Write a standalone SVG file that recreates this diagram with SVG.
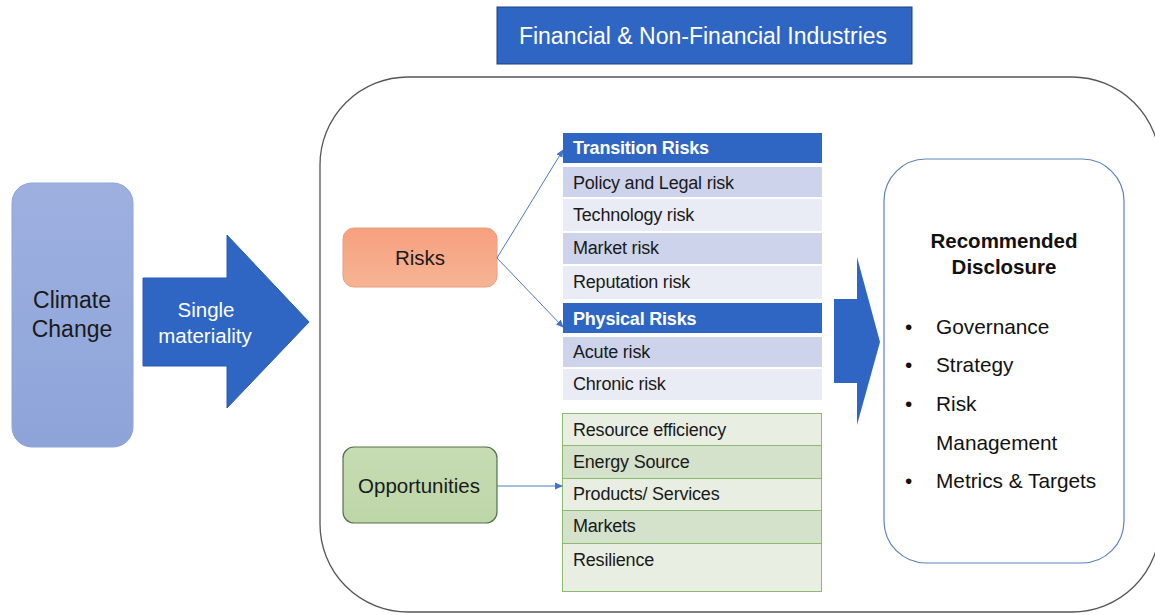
<svg xmlns="http://www.w3.org/2000/svg" width="1155" height="615" viewBox="0 0 1155 615">
  <defs>
    <linearGradient id="gClimate" x1="0" y1="0" x2="0" y2="1">
      <stop offset="0" stop-color="#9db0e0"/>
      <stop offset="1" stop-color="#8ea4d9"/>
    </linearGradient>
    <linearGradient id="gRisk" x1="0" y1="0" x2="0" y2="1">
      <stop offset="0" stop-color="#f7a07e"/>
      <stop offset="1" stop-color="#f6b494"/>
    </linearGradient>
    <linearGradient id="gOpp" x1="0" y1="0" x2="0" y2="1">
      <stop offset="0" stop-color="#c6dcb3"/>
      <stop offset="1" stop-color="#bdd6a8"/>
    </linearGradient>
    <marker id="arr" markerWidth="8" markerHeight="8" refX="7" refY="4" orient="auto" markerUnits="userSpaceOnUse">
      <path d="M0,0.5 L8,4 L0,7.5 z" fill="#4472c4"/>
    </marker>
  </defs>
  <style>
    text { font-family: "Liberation Sans", Arial, sans-serif; }
    .row { font-size: 18px; fill: #1a1a1a; letter-spacing: -0.2px; }
    .hdr { font-size: 18px; fill: #ffffff; font-weight: bold; letter-spacing: -0.2px; }
    .hdrbox { fill: #2f66c4; }
    .rDark { fill: #cdd3ea; }
    .rLight { fill: #e9ebf5; }
    .gDark { fill: #d4e1cb; stroke: #8cba70; stroke-width: 1; }
    .gLight { fill: #e9eee3; stroke: #8cba70; stroke-width: 1; }
    .big { fill: #2f66c4; }
    .conn { stroke: #4a78c8; stroke-width: 1; fill: none; }
    .disc { font-size: 20.8px; fill: #111; }
  </style>

  <rect width="1155" height="615" fill="#ffffff"/>

  <!-- industries banner -->
  <g id="industries">
    <rect x="497" y="7" width="415" height="57" fill="#2f66c4" stroke="#1f3f80" stroke-width="1"/>
    <text x="703" y="44" text-anchor="middle" font-size="23" fill="#ffffff">Financial &amp; Non-Financial Industries</text>
  </g>

  <!-- outer container -->
  <g id="container">
    <rect x="320" y="77" width="840" height="535" rx="88" ry="88" fill="#ffffff" stroke="#555555" stroke-width="1.3"/>
  </g>

  <!-- climate change -->
  <g id="climate">
    <rect x="12" y="183" width="121" height="264" rx="20" ry="20" fill="url(#gClimate)" stroke="#8fa3d6" stroke-width="1"/>
    <text x="72" y="308" text-anchor="middle" font-size="23" fill="#1a1a1a">Climate</text>
    <text x="72" y="337" text-anchor="middle" font-size="23" fill="#1a1a1a">Change</text>
  </g>

  <!-- single materiality arrow -->
  <g id="single-materiality">
    <path class="big" d="M143,278 L227,278 L227,235 L309,322 L227,408 L227,366 L143,366 z" stroke="#2a5bb0" stroke-width="1"/>
    <text x="206" y="317" text-anchor="middle" font-size="20.5" fill="#ffffff">Single</text>
    <text x="205" y="343" text-anchor="middle" font-size="20.5" fill="#ffffff">materiality</text>
  </g>

  <!-- risks -->
  <g id="risks">
    <rect x="343" y="228" width="154" height="59" rx="11" ry="11" fill="url(#gRisk)" stroke="#e8a080" stroke-width="1"/>
    <text x="420" y="265" text-anchor="middle" font-size="20.5" fill="#1a1a1a">Risks</text>
  </g>

  <!-- opportunities -->
  <g id="opportunities">
    <rect x="343" y="447" width="154" height="76" rx="11" ry="11" fill="url(#gOpp)" stroke="#55704a" stroke-width="1.2"/>
    <text x="419" y="493" text-anchor="middle" font-size="20.5" fill="#1a1a1a">Opportunities</text>
  </g>

  <!-- transition risks table -->
  <g id="transition-risks">
    <rect class="hdrbox" x="563" y="133" width="259" height="30"/>
    <text class="hdr" x="573" y="154">Transition Risks</text>
    <rect class="rDark" x="563" y="167" width="259" height="30"/>
    <text class="row" x="573" y="189">Policy and Legal risk</text>
    <rect class="rLight" x="563" y="199" width="259" height="32"/>
    <text class="row" x="573" y="221">Technology risk</text>
    <rect class="rDark" x="563" y="233" width="259" height="31"/>
    <text class="row" x="573" y="254">Market risk</text>
    <rect class="rLight" x="563" y="266" width="259" height="33"/>
    <text class="row" x="573" y="288">Reputation risk</text>
  </g>

  <!-- physical risks table -->
  <g id="physical-risks">
    <rect class="hdrbox" x="563" y="303" width="259" height="30"/>
    <text class="hdr" x="573" y="325">Physical Risks</text>
    <rect class="rDark" x="563" y="337" width="259" height="30"/>
    <text class="row" x="573" y="358">Acute risk</text>
    <rect class="rLight" x="563" y="369" width="259" height="31"/>
    <text class="row" x="573" y="390">Chronic risk</text>
  </g>

  <!-- opportunity table -->
  <g id="opportunity-list">
    <rect class="gLight" x="562.5" y="413.5" width="259" height="32"/>
    <text class="row" x="573" y="436">Resource efficiency</text>
    <rect class="gDark" x="562.5" y="445.5" width="259" height="33"/>
    <text class="row" x="573" y="468">Energy Source</text>
    <rect class="gLight" x="562.5" y="478.5" width="259" height="32"/>
    <text class="row" x="573" y="500">Products/ Services</text>
    <rect class="gDark" x="562.5" y="510.5" width="259" height="33"/>
    <text class="row" x="573" y="532">Markets</text>
    <rect class="gLight" x="562.5" y="543.5" width="259" height="48"/>
    <text class="row" x="573" y="566">Resilience</text>
  </g>

  <!-- disclosure arrow -->
  <g id="disclosure-arrow">
    <path class="big" d="M834,299 L857,299 L857,257 L880,342 L857,425 L857,383 L834,383 z"/>
  </g>

  <!-- recommended disclosure -->
  <g id="recommended-disclosure">
    <rect x="884" y="159" width="240" height="404" rx="42" ry="42" fill="#ffffff" stroke="#5f82bf" stroke-width="1.2"/>
    <text x="1004" y="248" text-anchor="middle" font-size="20.5" font-weight="bold" fill="#111">Recommended</text>
    <text x="1004" y="274" text-anchor="middle" font-size="20.5" font-weight="bold" fill="#111">Disclosure</text>
    <text class="disc" x="905" y="334">•</text>
    <text class="disc" x="936" y="334">Governance</text>
    <text class="disc" x="905" y="372">•</text>
    <text class="disc" x="936" y="372">Strategy</text>
    <text class="disc" x="905" y="411">•</text>
    <text class="disc" x="936" y="411">Risk</text>
    <text class="disc" x="936" y="450">Management</text>
    <text class="disc" x="905" y="488">•</text>
    <text class="disc" x="936" y="488">Metrics &amp; Targets</text>
  </g>

  <!-- connectors -->
  <g id="connectors">
    <line class="conn" x1="497" y1="258" x2="563" y2="150" marker-end="url(#arr)"/>
    <line class="conn" x1="497" y1="258" x2="563" y2="327" marker-end="url(#arr)"/>
    <line class="conn" x1="497" y1="486" x2="562" y2="486" marker-end="url(#arr)"/>
  </g>
</svg>
